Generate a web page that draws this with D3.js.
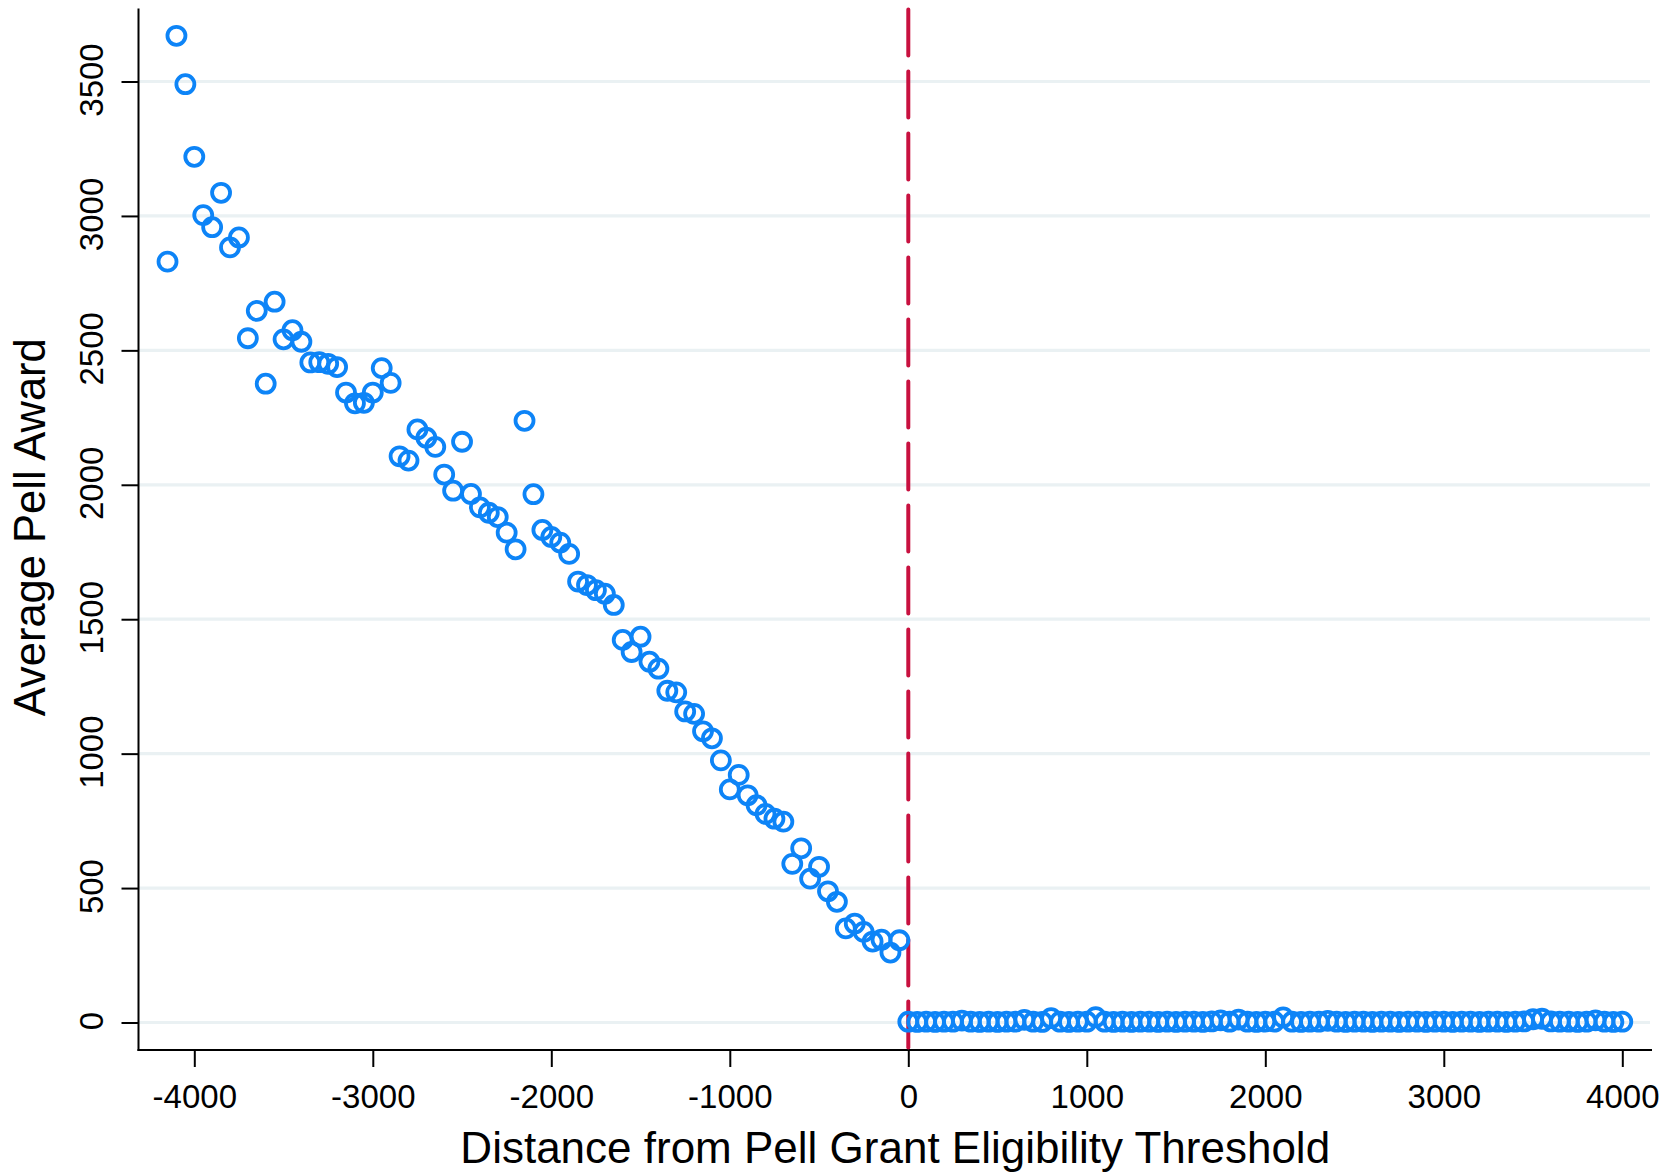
<!DOCTYPE html>
<html>
<head>
<meta charset="utf-8">
<script src="https://cdn.jsdelivr.net/npm/d3@7"></script>
<style>
  html, body { margin: 0; padding: 0; background: #ffffff; }
  svg { display: block; }
  text { font-family: "Liberation Sans", Arial, Helvetica, sans-serif; fill: #000; }
</style>
</head>
<body>
<svg id="chart" width="1677" height="1173"></svg>
<script>
// Bin centres (distance from the eligibility threshold) and average award, below the cutoff
const leftBins = [-4150,-4100,-4050,-4000,-3950,-3900,-3850,-3800,-3750,-3700,-3650,-3600,-3550,-3500,-3450,-3400,
  -3350,-3300,-3250,-3200,-3150,-3100,-3050,-3000,-2950,-2900,-2850,-2800,-2750,-2700,-2650,-2600,-2550,-2500,
  -2450,-2400,-2350,-2300,-2250,-2200,-2150,-2100,-2050,-2000,-1950,-1900,-1850,-1800,-1750,-1700,-1650,-1600,
  -1550,-1500,-1450,-1400,-1350,-1300,-1250,-1200,-1150,-1100,-1050,-1000,-950,-900,-850,-800,-750,-700,-650,
  -600,-550,-500,-450,-400,-350,-300,-250,-200,-150,-100,-50];
const leftAward = [2830,3670,3490,3220,3003,2958,3086,2883,2920,2545,2647,2376,2681,2541,2575,2532,
  2455,2456,2450,2438,2343,2303,2305,2343,2434,2379,2106,2090,2206,2175,2141,2038,1978,2160,
  1966,1916,1896,1880,1822,1760,2238,1965,1832,1806,1785,1743,1640,1627,1608,1595,1553,1423,
  1378,1435,1342,1316,1234,1228,1157,1148,1083,1057,975,867,921,845,808,776,758,747,590,
  648,535,579,488,449,350,368,337,301,308,260,306];

// Bins at and above the cutoff
const rightBins = [0,50,100,150,200,250,300,350,400,450,500,550,600,650,700,750,800,850,900,950,
  1000,1050,1100,1150,1200,1250,1300,1350,1400,1450,1500,1550,1600,1650,1700,1750,1800,1850,1900,1950,
  2000,2050,2100,2150,2200,2250,2300,2350,2400,2450,2500,2550,2600,2650,2700,2750,2800,2850,2900,2950,
  3000,3050,3100,3150,3200,3250,3300,3350,3400,3450,3500,3550,3600,3650,3700,3750,3800,3850,3900,3950,4000];
const rightAward = [3,2,3,2,3,3,7,3,2,3,2,3,3,10,3,2,16,3,2,3,
  3,20,3,2,3,2,3,3,2,3,2,3,3,2,4,8,3,11,3,2,
  3,3,19,3,2,3,3,6,3,2,3,3,2,3,3,2,3,3,2,3,
  3,2,3,3,2,3,3,2,3,4,12,14,4,3,3,2,3,8,3,2,3];

const xTicks = [-4000,-3000,-2000,-1000,0,1000,2000,3000,4000];
const yTicks = [0,500,1000,1500,2000,2500,3000,3500];
const cutoff = 0;

const xTitle = "Distance from Pell Grant Eligibility Threshold";
const yTitle = "Average Pell Award";

// Frame
const axisLeftX = 138.5, axisRightX = 1652;
const axisTopY = 8.5, axisBottomY = 1050;

const x = d3.scaleLinear().domain([-4000, 4000]).range([194.3, 1622.3]);
const y = d3.scaleLinear().domain([0, 3500]).range([1022.5, 81.5]);

// Plain hyphen for negatives
const fmt = d => String(d);

const svg = d3.select("#chart");

// Horizontal grid lines
svg.append("g")
  .selectAll("line")
  .data(yTicks)
  .join("line")
  .attr("x1", axisLeftX).attr("x2", axisRightX - 2)
  .attr("y1", d => y(d)).attr("y2", d => y(d))
  .attr("stroke", "#eaf1f3")
  .attr("stroke-width", 3.2);

// Y axis
const gy = svg.append("g")
  .attr("transform", `translate(${axisLeftX},0)`)
  .call(d3.axisLeft(y).tickValues(yTicks).tickSize(17).tickSizeOuter(0).tickFormat(fmt));
gy.select(".domain").remove();
gy.selectAll(".tick line").attr("stroke", "#000").attr("stroke-width", 2);
gy.selectAll(".tick text")
  .attr("x", null).attr("dy", null)
  .attr("text-anchor", "middle")
  .attr("transform", "translate(-35.5,-2) rotate(-90)")
  .style("font-size", "33px");

// X axis
const gx = svg.append("g")
  .attr("transform", `translate(0,${axisBottomY})`)
  .call(d3.axisBottom(x).tickValues(xTicks).tickSize(17).tickSizeOuter(0).tickFormat(fmt));
gx.select(".domain").remove();
gx.selectAll(".tick line").attr("stroke", "#000").attr("stroke-width", 2);
gx.selectAll(".tick text")
  .attr("y", 58).attr("dy", null)
  .style("font-size", "33px");

// Axis lines
svg.append("line")
  .attr("x1", axisLeftX).attr("x2", axisLeftX)
  .attr("y1", axisTopY).attr("y2", axisBottomY + 1)
  .attr("stroke", "#000").attr("stroke-width", 2);
svg.append("line")
  .attr("x1", axisLeftX - 1).attr("x2", axisRightX)
  .attr("y1", axisBottomY).attr("y2", axisBottomY)
  .attr("stroke", "#000").attr("stroke-width", 2);

// Eligibility cutoff
svg.append("line")
  .attr("x1", x(cutoff)).attr("x2", x(cutoff))
  .attr("y1", 9.5).attr("y2", axisBottomY)
  .attr("stroke", "#c8103f")
  .attr("stroke-width", 4)
  .attr("stroke-linecap", "round")
  .attr("stroke-dasharray", "46 16");

// Binned means
const points = d3.zip(leftBins, leftAward).concat(d3.zip(rightBins, rightAward));
svg.append("g")
  .selectAll("circle")
  .data(points)
  .join("circle")
  .attr("cx", d => x(d[0]))
  .attr("cy", d => y(d[1]))
  .attr("r", 9)
  .attr("fill", "none")
  .attr("stroke", "#0d84f7")
  .attr("stroke-width", 3.8);

// Axis titles
svg.append("text")
  .attr("x", (axisLeftX + axisRightX) / 2)
  .attr("y", 1163)
  .attr("text-anchor", "middle")
  .style("font-size", "44px")
  .text(xTitle);

svg.append("text")
  .attr("transform", `translate(45,${(axisTopY + axisBottomY) / 2 - 2}) rotate(-90)`)
  .attr("text-anchor", "middle")
  .style("font-size", "43.5px")
  .text(yTitle);
</script>
</body>
</html>
